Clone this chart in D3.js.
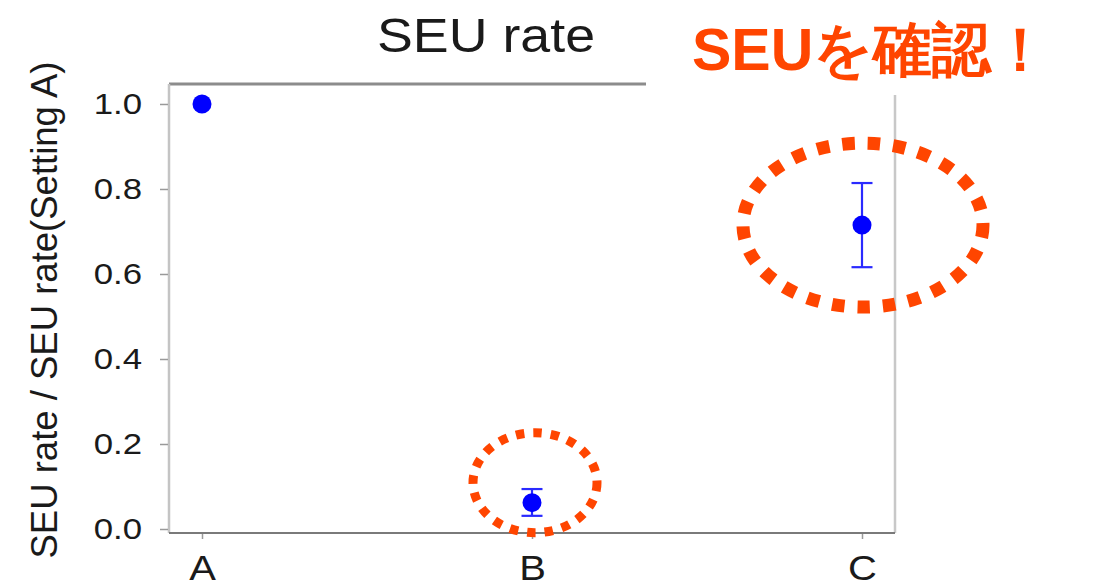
<!DOCTYPE html>
<html>
<head>
<meta charset="utf-8">
<script src="https://cdn.jsdelivr.net/npm/d3@7"></script>
<style>
  html, body { margin: 0; padding: 0; background: #fff; }
  svg { display: block; }
  text { font-family: "Liberation Sans", Arial, sans-serif; }
</style>
</head>
<body>
<svg id="chart" width="1118" height="587"></svg>
<script>
// Normalized SEU rate per setting (relative to setting A)
const settings = ["A", "B", "C"];
const seuRate = [1.0, 0.062, 0.715];
const errLow = [null, 0.031, 0.616];
const errHigh = [null, 0.094, 0.814];
const yTicks = [0.0, 0.2, 0.4, 0.6, 0.8, 1.0];

const titleText = "SEU rate";
const yLabelText = "SEU rate / SEU rate(Setting A)";
const calloutText = "SEUを確認！";
// settings that get a dotted highlight ring
const highlighted = ["B", "C"];

const svg = d3.select("#chart");
const plot = { left: 169, right: 895, top: 84, bottom: 533 };

// point scale: 330px step with a 33px inset from the frame
const x = d3.scalePoint().domain(settings).range([plot.left, plot.right]).padding(0.1);
const y = d3.scaleLinear().domain([-0.0094, 1.047]).range([plot.bottom, plot.top]);

// frame
const g = svg.append("g");
g.append("line").attr("x1", plot.left).attr("x2", plot.right).attr("y1", plot.top).attr("y2", plot.top)
  .attr("stroke", "#8c8c8c").attr("stroke-width", 3);
g.append("line").attr("x1", plot.right).attr("x2", plot.right).attr("y1", plot.top).attr("y2", plot.bottom)
  .attr("stroke", "#c8c8c8").attr("stroke-width", 2.5);
g.append("line").attr("x1", plot.left).attr("x2", plot.left).attr("y1", plot.top).attr("y2", plot.bottom)
  .attr("stroke", "#c4c4c4").attr("stroke-width", 2.5);
g.append("line").attr("x1", plot.left).attr("x2", plot.right).attr("y1", plot.bottom).attr("y2", plot.bottom)
  .attr("stroke", "#7a7a7a").attr("stroke-width", 2);

// y axis ticks and labels
const yAxis = d3.axisLeft(y).tickValues(yTicks).tickFormat(d3.format(".1f")).tickSize(8).tickPadding(0);
const ya = svg.append("g").attr("transform", `translate(${plot.left - 1},0)`).call(yAxis);
ya.select(".domain").remove();
ya.selectAll(".tick line").attr("stroke", "#9a9a9a").attr("stroke-width", 1.5);
ya.selectAll(".tick text")
  .attr("x", 0).attr("dy", null).attr("dominant-baseline", "central")
  .attr("fill", "#1a1a1a").attr("font-size", 29)
  .attr("transform", "translate(-26,0) scale(1.2,1)")
  .attr("text-anchor", "end");

// x axis ticks and labels
const xAxis = d3.axisBottom(x).tickSize(5).tickPadding(0);
const xa = svg.append("g").attr("transform", `translate(0,${plot.bottom + 1})`).call(xAxis);
xa.select(".domain").remove();
xa.selectAll(".tick line").attr("stroke", "#9a9a9a").attr("stroke-width", 1.5);
xa.selectAll(".tick text")
  .attr("y", 0).attr("dy", null)
  .attr("fill", "#1a1a1a").attr("font-size", 32)
  .attr("transform", "translate(0,46) scale(1.25,1.12)");

// title
svg.append("text").attr("x", 0).attr("y", 0)
  .attr("transform", "translate(486,52) scale(1.12,1)")
  .attr("text-anchor", "middle").attr("font-size", 48).attr("fill", "#1a1a1a")
  .text(titleText);

// y axis label
svg.append("text")
  .attr("transform", "translate(57,310) rotate(-90)")
  .attr("text-anchor", "middle").attr("font-size", 36.5).attr("fill", "#1a1a1a")
  .text(yLabelText);

// error bars
const rows = settings.map((s, i) => ({ s, v: seuRate[i], lo: errLow[i], hi: errHigh[i] }));
const eb = svg.append("g").attr("stroke", "#2a2aff").attr("stroke-width", 2.2);
rows.filter(d => d.lo !== null).forEach(d => {
  const cx = x(d.s);
  eb.append("line").attr("x1", cx).attr("x2", cx).attr("y1", y(d.lo)).attr("y2", y(d.hi));
  eb.append("line").attr("x1", cx - 10.5).attr("x2", cx + 10.5).attr("y1", y(d.lo)).attr("y2", y(d.lo));
  eb.append("line").attr("x1", cx - 10.5).attr("x2", cx + 10.5).attr("y1", y(d.hi)).attr("y2", y(d.hi));
});

// points
svg.append("g").selectAll("circle").data(rows).join("circle")
  .attr("cx", d => x(d.s)).attr("cy", d => y(d.v)).attr("r", 9.5)
  .attr("fill", "#0000ff");

// white backing for the callout
svg.append("rect").attr("x", 646).attr("y", 0).attr("width", 472).attr("height", 95).attr("fill", "#fff");

// dotted highlight rings (offsets in pixels / data units from the point)
const rings = [
  { s: "B", v: seuRate[1], dx: 3, dy: 0.047, rx: 62, ry: 50, w: 9, dash: "8.5 9" },
  { s: "C", v: seuRate[2], dx: 1, dy: 0.0, rx: 120, ry: 82, w: 13, dash: "12.5 13" }
].filter(r => highlighted.includes(r.s));
svg.append("g").selectAll("ellipse").data(rings).join("ellipse")
  .attr("cx", r => x(r.s) + r.dx)
  .attr("cy", r => y(r.v + r.dy))
  .attr("rx", r => r.rx).attr("ry", r => r.ry)
  .attr("fill", "none").attr("stroke", "#ff4500")
  .attr("stroke-width", r => r.w).attr("stroke-dasharray", r => r.dash);

// callout
svg.append("text").attr("x", 692).attr("y", 70)
  .attr("font-family", "'Noto Sans CJK JP', 'Noto Sans', sans-serif")
  .attr("font-weight", 900).attr("font-size", 59).attr("fill", "#ff4500")
  .text(calloutText);
</script>
</body>
</html>
